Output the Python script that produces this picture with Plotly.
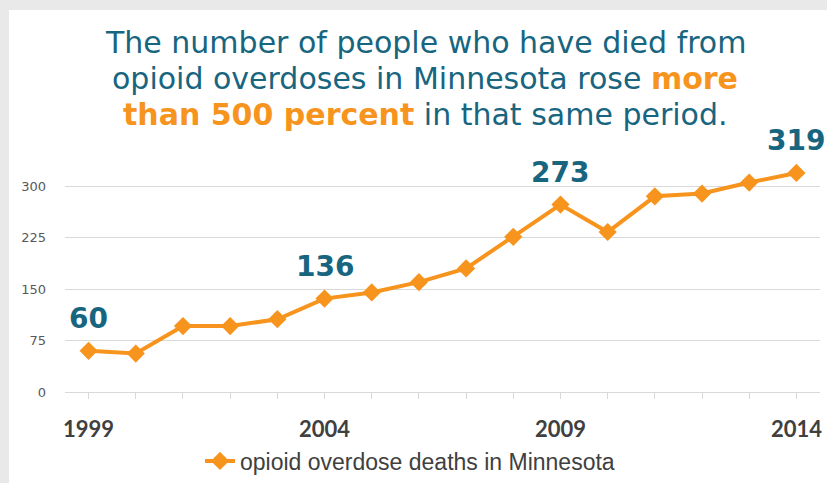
import plotly.graph_objects as go

years = list(range(1999, 2015))
deaths = [60, 56, 96, 96, 106, 136, 145, 160, 180, 226, 273, 233, 285, 289, 305, 319]
label_years = [1999, 2004, 2009, 2014]
label_values = [60, 136, 273, 319]
y_ticks = [0, 75, 150, 225, 300]
x_ticks = [1999, 2004, 2009, 2014]
series_name = "opioid overdose deaths in Minnesota"

TEAL = "#17657f"
ORANGE = "#f7941d"
W, H = 827, 483
L, R, T, B = 65, 7, 160, 91
pw, ph = W - L - R, H - T - B

def px2x(px):
    return (px - L) / pw

def py2y(py):
    return (H - B - py) / ph

fig = go.Figure()
fig.add_trace(go.Scatter(
    x=years, y=deaths, mode="lines+markers", name=series_name,
    line=dict(color=ORANGE, width=4),
    marker=dict(symbol="diamond", size=14, color=ORANGE),
    showlegend=True,
))

for yr, v in zip(label_years, label_values):
    fig.add_annotation(x=yr, y=v, text=f"<b>{v}</b>", showarrow=False,
                       yshift=32, font=dict(family="DejaVu Sans", size=28, color=TEAL))

title_lines = [
    "The number of people who have died from",
    f"opioid overdoses in Minnesota rose <span style='color:{ORANGE}'><b>more</b></span>",
    f"<span style='color:{ORANGE}'><b>than 500 percent</b></span> in that same period.",
]
for line, cy in zip(title_lines, [42, 78, 114]):
    fig.add_annotation(xref="paper", yref="paper", x=px2x(425), y=py2y(cy),
                       text=line, showarrow=False, align="center",
                       xanchor="center", yanchor="middle",
                       font=dict(family="DejaVu Sans", size=30, color=TEAL))

fig.add_shape(type="rect", xref="paper", yref="paper", layer="below",
              x0=px2x(9), x1=px2x(W + 5), y0=py2y(H + 5), y1=py2y(10),
              fillcolor="white", line=dict(width=0))

fig.update_layout(
    width=W, height=H,
    margin=dict(l=L, r=R, t=T, b=B, autoexpand=False),
    paper_bgcolor="#e9e9e9",
    plot_bgcolor="rgba(0,0,0,0)",
    xaxis=dict(range=[1998.5, 2014.5], tickvals=x_ticks, ticks="outside",
               ticklen=6, tickcolor="#d9d9d9", showgrid=False, zeroline=False,
               showline=True, linecolor="#d9d9d9", linewidth=1, automargin=False,
               tickfont=dict(family="Lato", size=22, color="#404040", weight="bold"),
               ticklabelstandoff=12,
               minor=dict(dtick=1, tick0=1999, ticks="outside", ticklen=6,
                          tickcolor="#d9d9d9", showgrid=False)),
    yaxis=dict(range=[0, ph / (206 / 300)], tickvals=y_ticks, showgrid=True,
               gridcolor="#d9d9d9", gridwidth=1, zeroline=False, showline=False,
               automargin=False,
               tickfont=dict(family="DejaVu Sans", size=13, color="#595959"),
               ticklabelstandoff=18),
    legend=dict(orientation="h", x=px2x(410), xanchor="center", y=py2y(461),
                yanchor="middle", bgcolor="rgba(0,0,0,0)",
                font=dict(family="Liberation Sans", size=23, color="#404040")),
)

fig.write_html("out.html")
